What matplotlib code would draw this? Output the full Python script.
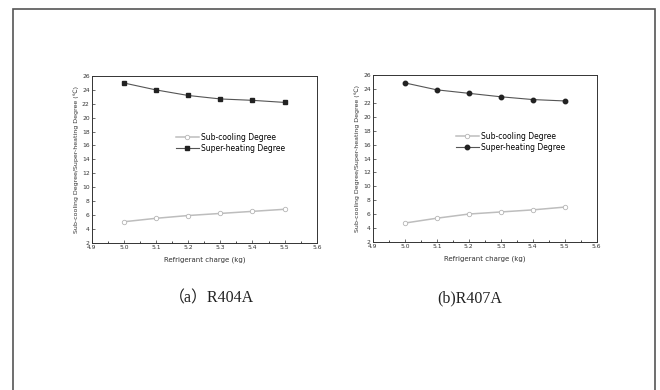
import matplotlib
matplotlib.use('Agg')
import matplotlib.pyplot as plt
from matplotlib.patches import Rectangle
from matplotlib.ticker import MultipleLocator

# refrigerant charge (kg)
charge = [5.0, 5.1, 5.2, 5.3, 5.4, 5.5]

# R404A
sub_404 = [5.0, 5.5, 5.9, 6.2, 6.5, 6.8]
sup_404 = [25.0, 24.0, 23.2, 22.7, 22.5, 22.2]

# R407A
sub_407 = [4.7, 5.4, 6.0, 6.3, 6.6, 7.0]
sup_407 = [24.9, 23.9, 23.4, 22.9, 22.5, 22.3]

captions = ['（a）R404A', '(b)R407A']
caption_x = [211 / 660, 470 / 660]

fig = plt.figure(figsize=(6.6, 3.9), dpi=100)
fig.patch.set_facecolor('white')

# outer frame of the figure panel
frame = Rectangle((13 / 660, -0.05), (655 - 13) / 660, 1 - 9 / 390 + 0.05,
                  transform=fig.transFigure, fill=False, edgecolor='#555555',
                  linewidth=1.2, clip_on=False)
fig.patches.append(frame)

positions = [[0.139, 0.378, 0.341, 0.427], [0.565, 0.380, 0.339, 0.427]]
datasets = [(sub_404, sup_404, 's'), (sub_407, sup_407, 'o')]

for pos, (sub, sup, mk), cap, cx in zip(positions, datasets, captions, caption_x):
    ax = fig.add_axes(pos)
    ax.plot(charge, sub, color='#bdbdbd', linewidth=1.1, marker='o', markersize=3.2,
            markerfacecolor='white', markeredgecolor='#b5b5b5', markeredgewidth=0.6,
            label='Sub-cooling Degree')
    ax.plot(charge, sup, color='#555555', linewidth=0.8, marker=mk, markersize=3.2,
            markerfacecolor='#222222', markeredgecolor='#222222',
            label='Super-heating Degree')
    ax.set_xlim(4.9, 5.6)
    ax.set_ylim(2, 26)
    ax.xaxis.set_major_locator(MultipleLocator(0.1))
    ax.xaxis.set_minor_locator(MultipleLocator(0.05))
    ax.yaxis.set_major_locator(MultipleLocator(2))
    ax.tick_params(direction='in', labelsize=4.3, length=2, width=0.5, pad=1.5,
                   colors='#333333')
    ax.tick_params(which='minor', direction='in', length=1.2, width=0.5)
    for s in ax.spines.values():
        s.set_linewidth(0.7)
        s.set_color('#333333')
    ax.set_xlabel('Refrigerant charge (kg)', fontsize=5, labelpad=5, color='#333333')
    ax.set_ylabel('Sub-cooling Degree/Super-heating Degree (℃)', fontsize=4.5,
                  labelpad=2, color='#333333')
    ax.legend(loc='upper right', bbox_to_anchor=(0.89, 0.70), frameon=False,
              fontsize=5.5, handlelength=3.0, labelspacing=0.25, handletextpad=0.3)
    fig.text(cx, 0.235, cap, ha='center', va='center', fontsize=11.5,
             family=['Liberation Serif', 'Noto Sans CJK SC'], color='#222222')

fig.savefig('out.png', dpi=100)
